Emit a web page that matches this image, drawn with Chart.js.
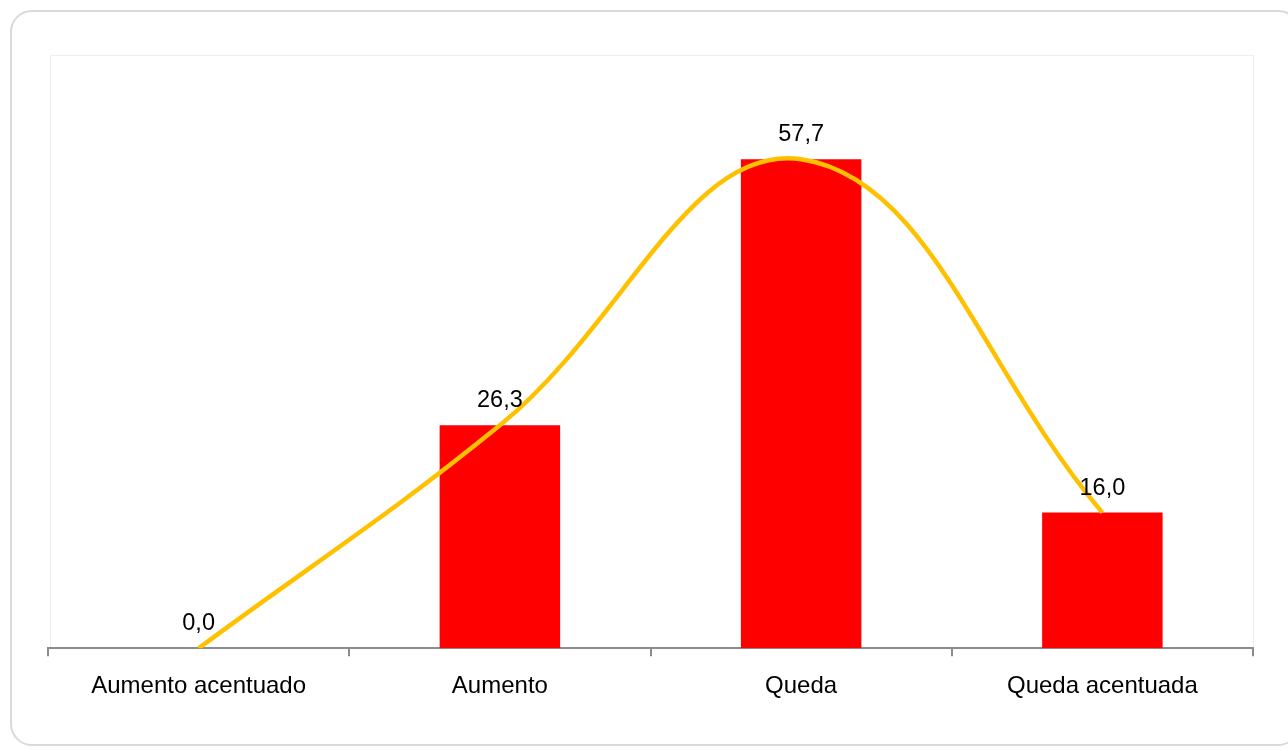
<!DOCTYPE html>
<html>
<head>
<meta charset="utf-8">
<script src="https://cdn.jsdelivr.net/npm/chart.js@4"></script>
<style>
  html, body { margin: 0; padding: 0; background: #fff; overflow: hidden; }
  #frame {
    position: absolute; left: 10px; top: 10px; width: 1290px; height: 736px;
    border: 2px solid #d9d9d9; border-radius: 22px; box-sizing: border-box;
  }
  #wrap { position: absolute; left: 0; top: 0; width: 1288px; height: 750px; }
</style>
</head>
<body>
<div id="frame"></div>
<div id="wrap"><canvas id="chart" width="1288" height="750"></canvas></div>
<script>
"use strict";

// Chart data
var categories = ["Aumento acentuado", "Aumento", "Queda", "Queda acentuada"];
var percentValues = [0.0, 26.3, 57.7, 16.0];

// Colours
var red = "#ff0000";
var gold = "#ffc000";
var axisGrey = "#8c8c8c";

// Formats numbers with a comma, e.g. 26,3
function fmt(v) {
    return v.toFixed(1).replace(".", ",");
}

// Draws the faint frame round the plot area
var plotFrame = {
    id: "plotFrame",
    beforeDraw: function(chart) {
        var a = chart.chartArea;
        var ctx = chart.ctx;
        ctx.save();
        ctx.strokeStyle = "#eeeeee";
        ctx.lineWidth = 1;
        ctx.strokeRect(a.left + 2.5, a.top + 0.5, a.right - a.left - 2, a.bottom - a.top);
        ctx.restore();
    }
};

// Writes the values above the bars
var valueLabels = {
    id: "valueLabels",
    afterDatasetsDraw: function(chart) {
        var ctx = chart.ctx;
        var meta = chart.getDatasetMeta(0);
        ctx.save();
        ctx.font = "23.5px 'Liberation Sans', Arial, sans-serif";
        ctx.fillStyle = "#000";
        ctx.textAlign = "center";
        ctx.textBaseline = "alphabetic";
        meta.data.forEach(function(bar, i) {
            ctx.fillText(fmt(percentValues[i]), bar.x, bar.y - 18);
        });
        ctx.restore();
    }
};

function init() {
    var ctx = document.getElementById("chart");
    new Chart(ctx, {
        data: {
            labels: categories,
            datasets: [{
                type: "line",
                data: percentValues,
                borderColor: gold,
                borderWidth: 4.5,
                pointRadius: 0,
                tension: 0.4,
                fill: false,
                order: 0
            }, {
                type: "bar",
                data: percentValues,
                backgroundColor: red,
                barPercentage: 0.4,
                categoryPercentage: 1.0,
                order: 1
            }]
        },
        options: {
            responsive: false,
            animation: false,
            layout: { padding: { left: 48, right: 35, top: 55, bottom: 33 } },
            plugins: { legend: { display: false }, tooltip: { enabled: false } },
            scales: {
                x: {
                    offset: true,
                    grid: {
                        offset: true,
                        drawOnChartArea: false,
                        color: axisGrey,
                        lineWidth: 2,
                        tickLength: 8
                    },
                    border: { color: axisGrey, width: 2 },
                    ticks: {
                        color: "#000",
                        padding: 16,
                        font: { family: "'Liberation Sans', Arial, sans-serif", size: 24 }
                    }
                },
                y: {
                    display: false,
                    min: 0,
                    max: 70
                }
            }
        },
        plugins: [plotFrame, valueLabels]
    });
}

window.onload = init;
</script>
</body>
</html>
